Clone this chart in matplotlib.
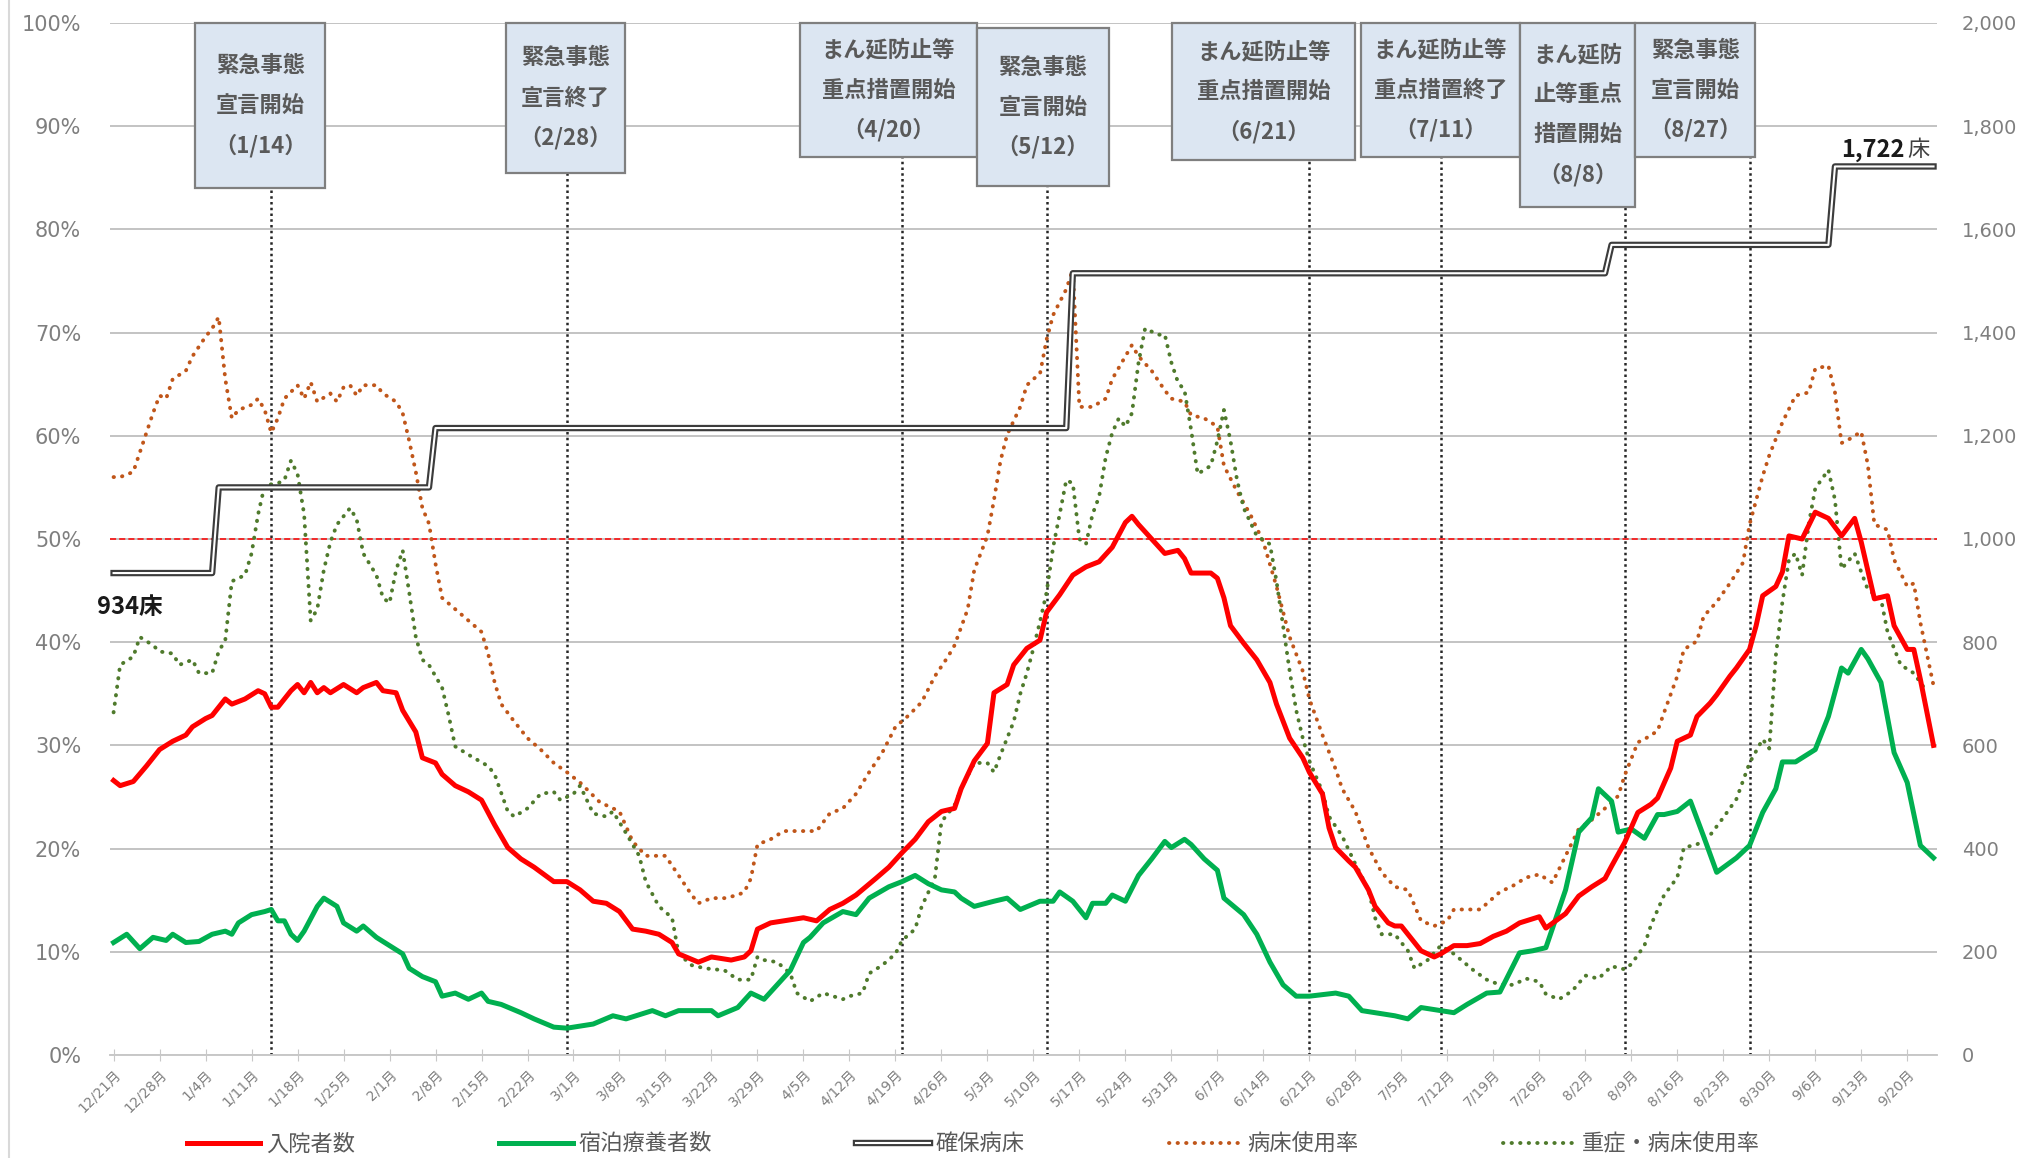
import numpy as np
import matplotlib
matplotlib.use("Agg")
import matplotlib.pyplot as plt
import matplotlib.patheffects as pe
from matplotlib.patches import Rectangle
from matplotlib.lines import Line2D
from matplotlib.font_manager import FontProperties
from matplotlib.ticker import FuncFormatter, MultipleLocator

plt.rcParams['font.family'] = ['DejaVu Sans', 'Noto Sans CJK JP']
JP = ['Noto Sans CJK JP', 'DejaVu Sans']

# ---------------- data (x = days since 2020-12-21) ----------------
tick_days = list(range(0, 274, 7))
tick_labels = ["12/21月", "12/28月", "1/4月", "1/11月", "1/18月", "1/25月", "2/1月", "2/8月",
               "2/15月", "2/22月", "3/1月", "3/8月", "3/15月", "3/22月", "3/29月", "4/5月",
               "4/12月", "4/19月", "4/26月", "5/3月", "5/10月", "5/17月", "5/24月", "5/31月",
               "6/7月", "6/14月", "6/21月", "6/28月", "7/5月", "7/12月", "7/19月", "7/26月",
               "8/2月", "8/9月", "8/16月", "8/23月", "8/30月", "9/6月", "9/13月", "9/20月"]

# 入院者数 (persons, right axis)
hosp_days = [0, 1, 3, 5, 7, 9, 11, 12, 14, 15, 17, 18, 20, 22, 23, 24, 25, 27, 28, 29, 30, 31, 32, 33,
             35, 37, 38, 40, 41, 43, 44, 46, 47, 49, 50, 52, 54, 56, 58, 60, 62, 64, 67, 69, 71, 73,
             75, 77, 79, 81, 83, 85, 86, 89, 91, 94, 96, 97, 98, 100, 102, 105, 107, 109, 111, 113,
             116, 118, 120, 122, 124, 126, 128, 129, 131, 133, 134, 136, 137, 139, 141, 142, 144,
             146, 148, 150, 152, 154, 155, 156, 158, 160, 162, 163, 164, 167, 168, 169, 170, 172,
             174, 176, 177, 179, 181, 182, 184, 185, 186, 188, 189, 191, 192, 194, 195, 196, 198,
             199, 201, 202, 204, 206, 208, 210, 212, 214, 217, 218, 221, 223, 225, 227, 228, 230,
             232, 234, 235, 237, 238, 240, 241, 243, 244, 246, 247, 249, 250, 251, 253, 254, 255,
             257, 259, 261, 263, 265, 266, 268, 270, 271, 273, 274, 275, 277]
hosp_vals = [532, 522, 530, 560, 592, 608, 620, 636, 652, 658, 690, 680, 690, 706, 700, 674, 674, 706,
             718, 702, 722, 702, 712, 702, 718, 702, 712, 722, 706, 702, 668, 626, 576, 566, 544, 522,
             510, 494, 446, 402, 380, 364, 336, 336, 320, 298, 294, 278, 244, 240, 234, 218, 196, 180,
             190, 184, 190, 202, 244, 256, 260, 266, 260, 282, 294, 310, 342, 364, 392, 418, 452, 472,
             478, 516, 570, 604, 702, 718, 756, 788, 804, 858, 892, 930, 946, 956, 984, 1032, 1044,
             1028, 1000, 972, 978, 962, 934, 934, 924, 886, 832, 798, 766, 722, 680, 614, 576, 548,
             506, 440, 402, 376, 364, 320, 288, 256, 250, 250, 218, 202, 190, 196, 212, 212, 216, 230,
             240, 256, 268, 246, 274, 308, 326, 342, 366, 412, 470, 486, 498, 556, 608, 620, 656, 682,
             698, 734, 750, 786, 832, 890, 908, 936, 1006, 1000, 1052, 1040, 1006, 1040, 994, 884,
             890, 832, 786, 786, 728, 600]

# 宿泊療養者数 (persons, right axis)
hotel_days = [0, 2, 4, 6, 8, 9, 11, 13, 15, 17, 18, 19, 21, 23, 24, 25, 26, 27, 28, 29, 31, 32, 34, 35,
              37, 38, 40, 42, 44, 45, 47, 49, 50, 52, 54, 56, 57, 59, 62, 64, 67, 69, 71, 73, 76, 78,
              82, 84, 86, 89, 91, 92, 95, 97, 99, 101, 103, 105, 106, 108, 111, 113, 115, 118, 120,
              122, 124, 126, 128, 129, 131, 134, 136, 138, 141, 143, 144, 146, 148, 149, 151, 152,
              154, 156, 158, 160, 161, 163, 164, 166, 168, 169, 172, 174, 176, 178, 180, 182, 186,
              188, 190, 192, 195, 197, 199, 202, 204, 206, 209, 211, 214, 216, 218, 221, 223, 225,
              226, 228, 229, 231, 233, 235, 236, 238, 240, 242, 244, 247, 249, 251, 253, 254, 256,
              259, 261, 263, 264, 266, 267, 269, 271, 273, 275, 277]
hotel_vals = [218, 234, 206, 228, 222, 234, 218, 220, 234, 240, 234, 256, 272, 278, 282, 260, 260, 234,
              222, 240, 288, 304, 288, 256, 240, 250, 228, 212, 196, 168, 152, 142, 114, 120, 108, 120,
              104, 98, 82, 70, 54, 52, 56, 60, 76, 70, 86, 76, 86, 86, 86, 76, 92, 120, 108, 136, 164,
              218, 228, 256, 278, 272, 304, 326, 336, 348, 332, 320, 316, 304, 288, 298, 304, 282, 298,
              298, 316, 298, 266, 294, 294, 310, 298, 348, 380, 414, 402, 418, 408, 380, 358, 304, 272,
              234, 180, 136, 114, 114, 120, 114, 86, 82, 76, 70, 92, 86, 82, 98, 120, 122, 198, 202,
              208, 320, 432, 460, 516, 492, 432, 438, 420, 466, 466, 472, 492, 424, 354, 382, 406, 470,
              516, 568, 568, 592, 656, 750, 740, 786, 768, 722, 586, 528, 406, 382]

# 確保病床 (beds, right axis): value from each change date onward
bed_change_days = [0, 16, 49, 146, 228, 262]
bed_vals = [934, 1100, 1215, 1515, 1570, 1722]
bed_last_day = 277

# 病床使用率 (%)
use_days = [0, 1, 3, 4, 5, 6, 7, 8, 9, 11, 12, 14, 15, 16, 17, 18, 19, 21, 22, 23, 24, 25, 26, 28, 29,
            30, 31, 33, 34, 35, 36, 37, 38, 40, 41, 43, 44, 45, 46, 47, 48, 49, 50, 52, 54, 56, 57,
            58, 59, 61, 63, 65, 67, 69, 71, 74, 77, 79, 81, 84, 86, 88, 89, 91, 93, 95, 96, 97, 98,
            100, 102, 104, 107, 109, 111, 113, 115, 117, 119, 121, 123, 125, 127, 128, 130, 131, 133,
            134, 135, 136, 138, 139, 140, 141, 142, 143, 145, 146, 147, 149, 151, 152, 154, 155, 156,
            158, 160, 161, 163, 164, 166, 168, 169, 171, 173, 175, 177, 179, 181, 182, 184, 186, 187,
            189, 191, 193, 195, 197, 199, 201, 203, 204, 206, 208, 211, 213, 215, 217, 219, 221, 223,
            225, 227, 229, 230, 232, 233, 235, 236, 238, 239, 241, 242, 244, 246, 248, 249, 251, 252,
            254, 256, 258, 259, 261, 262, 263, 264, 266, 267, 268, 270, 271, 273, 274, 275, 277]
use_vals = [56, 56, 56.5, 58.4, 60.3, 62.2, 63.9, 63.6, 65.5, 66.3, 67.7, 69.6, 70.4, 71.5, 65.5, 61.7,
            62.5, 63, 63.6, 62.5, 60.3, 61.7, 63.6, 64.9, 63.6, 65.2, 63.3, 64.1, 63.3, 64.7, 64.9,
            63.9, 64.9, 64.9, 64.1, 63.3, 62.2, 59.5, 56.5, 53, 51.5, 47.6, 44.3, 43.2, 42.1, 41,
            38.9, 36.1, 34, 32.3, 30.7, 29.6, 28.3, 27.4, 26.4, 24.5, 23.6, 20.7, 19.3, 19.3, 17.4,
            15.5, 14.7, 15.2, 15.2, 15.5, 15.8, 17.1, 20.4, 20.9, 21.7, 21.7, 21.7, 23.4, 23.9, 25.3,
            27.4, 29.3, 31.8, 32.9, 34.2, 36.7, 38.6, 39.7, 43.2, 47, 50.3, 53.8, 57.6, 60.1, 62.8,
            64.9, 65.5, 66, 69.3, 71.7, 74.2, 76.1, 62.8, 62.8, 63.6, 65.5, 67.7, 68.8, 67.7, 66.3,
            64.4, 63.6, 63.3, 62, 61.7, 60.9, 57.1, 54.6, 52.4, 49.7, 45.4, 40.5, 37.2, 34.5, 31,
            27.7, 25.8, 23.6, 20.1, 17.7, 16.3, 16, 13, 12.5, 13, 14.1, 14.1, 14.1, 15.8, 16.4, 17.2,
            17.5, 16.7, 19.3, 21.9, 22.8, 23.9, 25.1, 27.1, 30.3, 30.6, 31.4, 33.2, 36.7, 39.3, 40.1,
            42.5, 43.9, 45.7, 47.7, 51.4, 56.1, 58.1, 61.3, 63.9, 64.2, 66.5, 66.8, 64.2, 59.3, 59.6,
            60.4, 57.2, 51.4, 50.9, 48, 45.4, 45.7, 41.9, 35.8]

# 重症・病床使用率 (%)
sev_days = [0, 1, 3, 4, 6, 7, 9, 10, 12, 13, 15, 16, 17, 18, 20, 21, 22, 23, 25, 26, 27, 28, 29, 30,
            31, 32, 33, 34, 36, 37, 38, 40, 41, 42, 43, 44, 45, 46, 47, 48, 50, 51, 52, 54, 57, 58,
            60, 61, 63, 65, 67, 68, 70, 71, 73, 75, 76, 78, 80, 81, 83, 85, 86, 88, 90, 93, 95, 97,
            98, 99, 101, 103, 104, 106, 108, 111, 112, 114, 115, 117, 119, 120, 122, 123, 125, 126,
            128, 129, 131, 133, 134, 135, 137, 138, 139, 140, 141, 142, 143, 144, 145, 146, 147, 148,
            149, 150, 151, 152, 153, 154, 155, 156, 157, 159, 160, 161, 162, 163, 164, 165, 167, 168,
            169, 170, 171, 172, 174, 176, 177, 178, 179, 180, 181, 182, 184, 185, 187, 189, 191, 192,
            193, 195, 197, 198, 200, 202, 204, 207, 209, 211, 213, 215, 217, 218, 220, 222, 224, 226,
            228, 230, 231, 233, 234, 236, 238, 239, 241, 243, 245, 247, 249, 251, 252, 253, 254, 255,
            256, 257, 258, 259, 261, 262, 263, 265, 266, 267, 269, 270, 272, 274, 276]
sev_vals = [33.2, 37.8, 38.6, 40.5, 39.7, 39.1, 38.9, 37.8, 38.3, 37, 37, 39.1, 40.2, 45.9, 46.5, 48.6,
            52.4, 55.2, 55.4, 55.7, 57.6, 56.3, 52.4, 42.1, 43.2, 47, 49.7, 51.4, 53, 51.9, 48.6,
            46.5, 44.3, 43.8, 47, 48.9, 44.8, 40.5, 38.3, 37.8, 35.6, 32.9, 29.9, 29.1, 28, 27.2,
            23.6, 23.1, 23.9, 25.3, 25.5, 24.7, 25.3, 26.1, 23.4, 23.1, 23.6, 21.5, 19.3, 16.8, 14.4,
            13.3, 9.8, 8.7, 8.4, 8.2, 7.3, 7.3, 9.5, 9.2, 9, 7.9, 6, 5.2, 6, 5.4, 5.7, 6, 7.9, 8.7,
            9.8, 11.1, 12.2, 14.4, 17.1, 22.6, 24.2, 25.8, 28.3, 28.3, 27.4, 29.1, 32.3, 35, 37, 39.4,
            42, 44.8, 49.2, 52.4, 55.7, 55.4, 50, 49.5, 52.4, 54.1, 57.9, 60.3, 61.7, 60.9, 62.2,
            67.1, 70.4, 69.8, 69.8, 67.1, 65.2, 64.4, 60.6, 56.3, 57.1, 59.5, 62.5, 59.5, 55.7, 53,
            50.3, 49.5, 45.9, 41.6, 37.2, 33.4, 30.7, 28.5, 25.5, 23.1, 21.2, 18.5, 16, 13.3, 11.7,
            11.7, 10.1, 8.4, 9.2, 10.6, 9.8, 8.2, 7.3, 6.8, 6.8, 7.4, 7.1, 5.9, 5.4, 6.2, 7.7, 7.4,
            8.6, 8.3, 8.8, 10.6, 12.6, 15.5, 17.2, 20.1, 20.4, 21.3, 23, 24.8, 28.3, 30.6, 29.7,
            38.7, 43.9, 48, 48.6, 46.5, 51.4, 54.9, 56.7, 53.8, 47.1, 48.6, 46.8, 45.1, 44.2, 41,
            37.8, 37, 35.2]

# events
event_days = [24, 69, 120, 142, 182, 202, 230, 249]
event_texts = [["緊急事態", "宣言開始", "（1/14）"],
               ["緊急事態", "宣言終了", "（2/28）"],
               ["まん延防止等", "重点措置開始", "（4/20）"],
               ["緊急事態", "宣言開始", "（5/12）"],
               ["まん延防止等", "重点措置開始", "（6/21）"],
               ["まん延防止等", "重点措置終了", "（7/11）"],
               ["まん延防", "止等重点", "措置開始", "（8/8）"],
               ["緊急事態", "宣言開始", "（8/27）"]]
# box extents (x0, x1 in days; y0, y1 in %)
event_boxes = [(12.4, 32.2, 84.0, 100), (59.7, 77.8, 85.5, 100), (104.5, 131.4, 87.0, 100),
               (131.4, 151.5, 84.2, 99.5), (161.1, 189.0, 86.7, 100), (189.8, 214.1, 87.0, 100),
               (214.1, 231.6, 82.2, 100), (231.6, 249.9, 87.0, 100)]

legend_labels = ["入院者数", "宿泊療養者数", "確保病床", "病床使用率", "重症・病床使用率"]

# ---------------- figure ----------------
W, H = 2024, 1158
fig = plt.figure(figsize=(W / 100, H / 100), dpi=100)
ax = fig.add_axes([110.3 / W, 1 - 1055 / H, 1826.5 / W, 1032 / H])
ax2 = ax.twinx()

GRID = '#b3b3b3'
TXT = '#7f7f7f'

ax.set_xlim(-0.5, 277.5)
ax.set_ylim(0, 100)
ax2.set_ylim(0, 2000)
ax.yaxis.set_major_locator(MultipleLocator(10))
ax.yaxis.set_major_formatter(FuncFormatter(lambda v, p: f"{int(round(v))}%"))
ax2.yaxis.set_major_locator(MultipleLocator(200))
ax2.yaxis.set_major_formatter(FuncFormatter(lambda v, p: f"{int(round(v)):,}"))
ax.grid(axis='y', color=GRID, lw=1.1)
ax.set_axisbelow(True)
for a in (ax, ax2):
    for s in ('top', 'left', 'right'):
        a.spines[s].set_visible(False)
    a.spines['bottom'].set_color('#c8c8c8')
    a.spines['bottom'].set_linewidth(1.2)
ax.tick_params(axis='y', length=0, pad=21, labelsize=15, labelcolor=TXT)
ax2.tick_params(axis='y', length=0, pad=18, labelsize=14, labelcolor=TXT)
ax.set_xticks(tick_days)
ax.set_xticklabels(tick_labels, rotation=45, ha='right', va='top', rotation_mode='anchor')
ax.tick_params(axis='x', direction='inout', length=8, color='#c8c8c8', labelsize=10,
               labelcolor=TXT, pad=5)

# 50% reference
ax.axhline(50, color='#ff0000', lw=1.1, ls=(0, (4, 2)), zorder=2)

# dotted rate lines
ax.plot(use_days, use_vals, color='#c0561a', lw=2.8, ls=(0, (0.1, 2.1)),
        dash_capstyle='round', zorder=3)
ax.plot(sev_days, sev_vals, color='#4f7a2c', lw=2.8, ls=(0, (0.1, 2.1)),
        dash_capstyle='round', zorder=3)

# event lines
box_bottoms = [b[2] for b in event_boxes]
ax.vlines(event_days, 0, box_bottoms, colors='#262626', lw=1.8, linestyles=(0, (1, 1.3)), zorder=2)

# counts
ax2.plot(hotel_days, hotel_vals, color='#00b050', lw=3.6, zorder=4, solid_joinstyle='round')
ax2.plot(hosp_days, hosp_vals, color='#ff0000', lw=3.6, zorder=5, solid_joinstyle='round')
all_days = np.arange(0, bed_last_day + 1)
bed_daily = np.array(bed_vals)[np.searchsorted(bed_change_days, all_days, side='right') - 1]
bed_fx = [pe.Stroke(linewidth=4.6, foreground='#3c3c3c'), pe.Normal()]
ax2.plot(all_days, bed_daily, color='white', lw=1.5, zorder=6, path_effects=bed_fx)

# event boxes with text
for (x0, x1, y0, y1), lines in zip(event_boxes, event_texts):
    y0c, y1c = y0 / 100 * 2000, y1 / 100 * 2000
    ax2.add_patch(Rectangle((x0, y0c), x1 - x0, y1c - y0c, facecolor='#dce6f2',
                            edgecolor='#7f7f7f', lw=1.6, zorder=10, clip_on=False))
    n = len(lines)
    yc = (y0 + y1) / 2
    sp = 3.88
    for i, t in enumerate(lines):
        yy = yc + (n - 1) / 2 * sp - i * sp
        ax2.text((x0 + x1) / 2, yy / 100 * 2000, t, ha='center', va='center', fontsize=16,
                 fontweight='bold', color='#595959', family=JP, zorder=11, clip_on=False)

# bed labels
ax.text(-2.6, 43.4, "934床", ha='left', va='center', fontsize=17, fontweight='bold',
        color='#1a1a1a', family=JP, zorder=12, clip_on=False)
ax.text(263.0, 87.7, "1,722", ha='left', va='center', fontsize=17, fontweight='bold',
        color='#1a1a1a', family=JP, zorder=12, clip_on=False)
ax.text(273.0, 87.7, "床", ha='left', va='center', fontsize=16,
        color='#404040', family=JP, zorder=12, clip_on=False)

# legend
handles = [Line2D([], [], color='#ff0000', lw=3.6),
           Line2D([], [], color='#00b050', lw=3.6),
           Line2D([], [], color='white', lw=1.5, path_effects=bed_fx),
           Line2D([], [], color='#c0561a', lw=2.8, ls=(0, (0.1, 2.1)), dash_capstyle='round'),
           Line2D([], [], color='#4f7a2c', lw=2.8, ls=(0, (0.1, 2.1)), dash_capstyle='round')]
leg = fig.legend(handles, legend_labels, loc='center left', bbox_to_anchor=(176 / W, 1 - 1144 / H),
                 ncol=5, frameon=False, prop=FontProperties(family=JP, size=16),
                 handlelength=3.3, handletextpad=0.25, columnspacing=6.5, borderpad=0)
for t in leg.get_texts():
    t.set_color('#595959')

# chart-area left border
fig.add_artist(Line2D([9 / W, 9 / W], [0, 1], transform=fig.transFigure, color='#d9d9d9', lw=1.5))

fig.savefig('out.png', dpi=100)
